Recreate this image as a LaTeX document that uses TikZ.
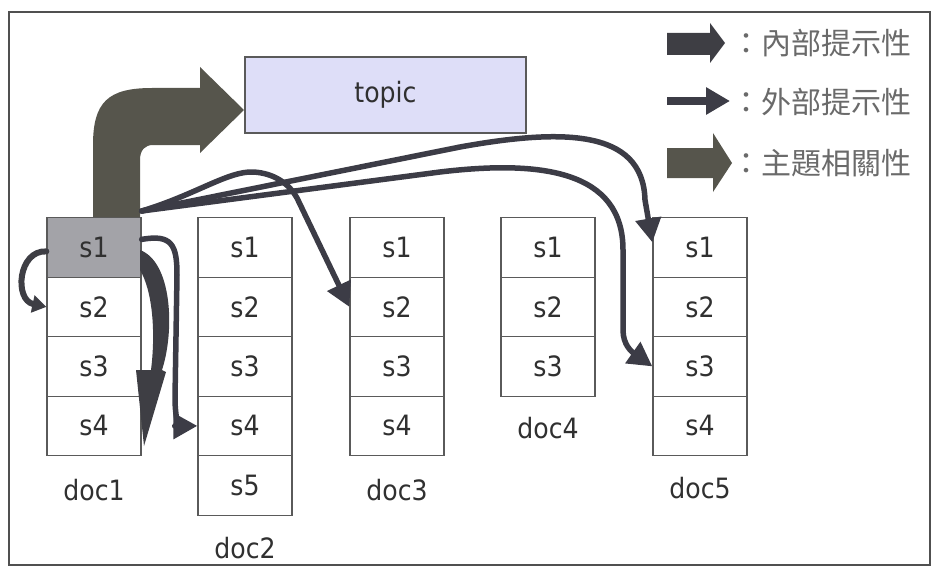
\documentclass[tikz,border=0pt]{standalone}
\usepackage{fontspec}
\setmainfont[FakeStretch=0.9]{DejaVu Sans}
\newfontfamily\cjkfont{Noto Sans CJK TC}
\usetikzlibrary{arrows.meta}

\definecolor{framecol}{HTML}{505050}
\definecolor{boxline}{HTML}{5A5A5A}
\definecolor{lineclr}{HTML}{3C3C46}
\definecolor{intfill}{HTML}{3E3E44}
\definecolor{relfill}{HTML}{56554C}
\definecolor{selgrey}{HTML}{A3A3A8}
\definecolor{topicfill}{HTML}{DEDEF8}
\definecolor{txt}{HTML}{303030}
\definecolor{legtxt}{HTML}{6A6A6A}

\tikzset{
  cell/.style={draw=boxline, line width=1.3pt, minimum width=94pt,
    minimum height=59.5pt, inner sep=0pt, anchor=north, text=txt,
    font=\fontsize{28}{28}\selectfont},
  doclabel/.style={text=txt, inner sep=0pt, font=\fontsize{28}{28}\selectfont},
  ext/.style={draw=lineclr, line width=5.5pt, line cap=round, line join=round,
    -{Triangle[length=24pt,width=25pt]}},
  intline/.style={draw=intfill, line width=6pt, line cap=round,
    -{Triangle[length=14pt,width=17pt]}},
  legtext/.style={anchor=west, inner sep=0pt, text=legtxt,
    font=\cjkfont\fontsize{30}{30}\selectfont},
}

\begin{document}
\begin{tikzpicture}[x=1pt,y=-1pt]
\useasboundingbox (0,0) rectangle (931,567);

% outer frame
\draw[framecol, line width=2pt] (9,12) rectangle (930,565);

% topic box
\node[draw=boxline, line width=1.3pt, fill=topicfill, minimum width=281pt,
  minimum height=76pt, inner sep=0pt, text=txt,
  font=\fontsize{28}{28}\selectfont] (topic) at (385.5,95) {topic};

% documents: columns of sentence cells
\node[cell, fill=selgrey] (d1-s1) at (94,217) {s1};
\foreach \d/\x/\a/\n in {1/94/2/4, 2/245/1/5, 3/397/1/4, 4/548/1/3, 5/700/1/4} {
  \foreach \s in {\a,...,\n} {
    \node[cell] (d\d-s\s) at (\x,{217+59.5*(\s-1)}) {s\s};
  }
}

% document names
\node[doclabel] (doc1) at (94,490) {doc1};
\node[doclabel] (doc2) at (245,548) {doc2};
\node[doclabel] (doc3) at (397,490) {doc3};
\node[doclabel] (doc4) at (548,428) {doc4};
\node[doclabel] (doc5) at (700,488) {doc5};

% topic relevance: bent block arrow from doc1 s1 to the topic
\fill[relfill] (93,217) -- (93,145) .. controls (93,102) and (108,88) .. (152,88)
  -- (200,88) -- (200,67) -- (244,110) -- (200,153) -- (200,145) -- (153,145)
  .. controls (145,145) and (140,150) .. (140,160) -- (140,217) -- cycle;

% internal hints inside doc1
\draw[intline] ([yshift=-4pt]d1-s1.west) .. controls (18,250) and (14,300) .. (d1-s2.west);
\fill[intfill] (140,250) .. controls (172,262) and (175,330) .. (162,370)
  -- (166,372) -- (144,446) -- (136,370) -- (151,370)
  .. controls (156,330) and (152,290) .. (140,270) -- cycle;

% external hints from doc1 s1 to other documents
\coordinate (src) at ([yshift=6pt]d1-s1.north east);
\draw[ext] ([yshift=8pt]d1-s1.east) .. controls (172,234) and (177,245) .. (177,275)
  -- (175,398) .. controls (175,420) and (180,426) .. (d2-s4.west);
\draw[ext] (src) .. controls (195,195) and (228,171) .. (253,172)
  .. controls (275,173) and (290,185) .. (297,198) -- (d3-s2.west);
\draw[ext] (src) -- (460,147) .. controls (560,129) and (643,128) .. (645,200)
  -- ([yshift=5pt]d5-s1.west);
\draw[ext] (src) -- (440,172) .. controls (540,160) and (623,170) .. (623,250)
  -- (623,330) .. controls (623,345) and (632,352) .. (d5-s3.west);

% legend
\fill[intfill] (667,33) -- (710,33) -- (710,23) -- (725,43) -- (710,63) -- (710,55)
  -- (667,55) -- cycle;
\draw[draw=lineclr, line width=8pt, -{Triangle[length=24pt,width=26pt]}] (667,101) -- (730,101);
\fill[relfill] (667,148) -- (713,148) -- (713,133) -- (732,163) -- (713,192)
  -- (713,178) -- (667,178) -- cycle;
\node[legtext] (leg1) at (731,43) {：內部提示性};
\node[legtext] (leg2) at (731,102) {：外部提示性};
\node[legtext] (leg3) at (731,163) {：主題相關性};
\end{tikzpicture}
\end{document}
